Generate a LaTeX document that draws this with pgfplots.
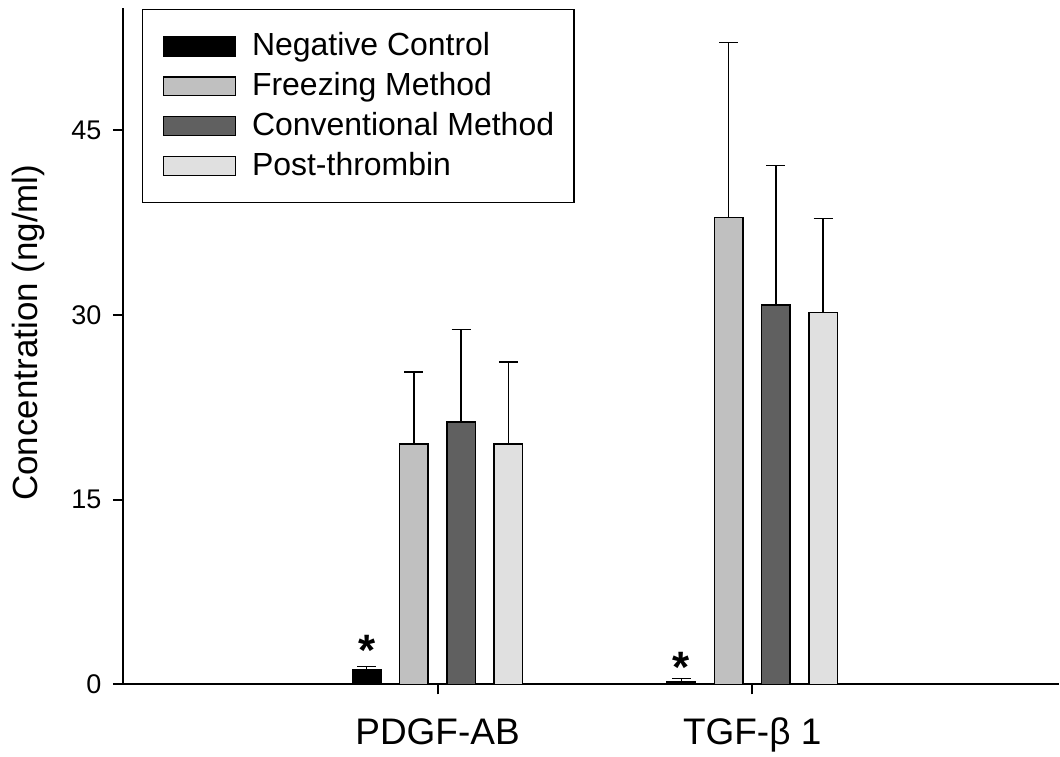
\documentclass[border=0pt]{standalone}
\usepackage{pgfplots}
\pgfplotsset{compat=1.18}
\usepackage{pgfplotstable}
\usepackage{fontspec}
\setmainfont{Liberation Sans}

\definecolor{freez}{HTML}{C0C0C0}
\definecolor{conv}{HTML}{606060}
\definecolor{postt}{HTML}{E0E0E0}

% x = category, y = mean, e = upper error, s = shift of the asterisk (pt)
\pgfplotstableread{
x y e s
1 1.15 0.28 2.3
2 0.24 0.22 -0.5
}\negctrl
\pgfplotstableread{
x y e
1 19.5 5.85
2 37.9 14.2
}\freezing
\pgfplotstableread{
x y e
1 21.3 7.5
2 30.8 11.3
}\conventional
\pgfplotstableread{
x y e
1 19.5 6.65
2 30.2 7.6
}\postthrombin

\begin{document}
\begin{tikzpicture}
\begin{axis}[
    scale only axis,
    width=468.5pt,
    height=338.5pt,
    xmin=0, xmax=2.975,
    ymin=0, ymax=54.9,
    axis lines=left,
    axis line style={-, line width=1pt},
    tick align=outside,
    major tick length=5pt,
    tick style={black, line width=1pt},
    xtick={1,2},
    xticklabels={PDGF-AB, TGF-β 1},
    ytick={0,15,30,45},
    /pgf/number format/assume math mode=true,
    xticklabel style={font=\fontsize{18.5}{18.5}\selectfont, inner sep=0pt,
        text height=13.3pt, text depth=3.8pt, anchor=north, yshift=-11.5pt},
    yticklabel style={font=\fontsize{13.5}{13.5}\selectfont, inner sep=0pt,
        anchor=east, xshift=-5.5pt},
    ylabel={Concentration (ng/ml)},
    ylabel style={font=\fontsize{17.5}{17.5}\selectfont, at={(axis description cs:-0.1014,0.52)}, anchor=center},
    ybar=9.4pt,
    bar width=14.25pt,
    every axis plot/.append style={draw=black, line width=0.75pt},
    error bars/error bar style={black, line width=0.75pt},
    error bars/error mark options={black, rotate=90, mark size=4.75pt, line width=0.75pt},
    legend image code/.code={\draw[#1, line width=0.75pt] (0pt,0pt) rectangle (36pt,9.5pt);},
    legend style={at={(axis description cs:0.0203,0.999)}, anchor=north west,
        draw=black, line width=0.75pt, fill=white,
        font=\fontsize{16}{16}\selectfont,
        inner xsep=10pt, inner ysep=12pt, row sep=7.3pt, column sep=8pt,
        nodes={inner sep=0pt, text height=11.2pt, text depth=1.5pt, anchor=base west}},
    legend cell align=left,
    clip=false,
]
\coordinate (bl) at (rel axis cs:0,0);
\coordinate (tr) at (rel axis cs:1,1);
\addplot[fill=black,
    error bars/.cd, y dir=plus, y explicit,
    ] table[x=x, y=y, y error=e] {\negctrl};
\addlegendentry{Negative Control}
\addplot[fill=freez, error bars/.cd, y dir=plus, y explicit]
    table[x=x, y=y, y error=e] {\freezing};
\addlegendentry{Freezing Method}
\addplot[fill=conv, error bars/.cd, y dir=plus, y explicit]
    table[x=x, y=y, y error=e] {\conventional};
\addlegendentry{Conventional Method}
\addplot[fill=postt, error bars/.cd, y dir=plus, y explicit]
    table[x=x, y=y, y error=e] {\postthrombin};
\addlegendentry{Post-thrombin}
% asterisks above the negative control bars
\addplot[draw=none, fill=none, forget plot, bar shift=-35.475pt,
    nodes near coords={*},
    visualization depends on={\thisrow{s}\as\shift},
    nodes near coords style={font=\fontsize{22}{22}\selectfont\bfseries,
        anchor=base, inner sep=0pt, yshift=\shift pt}]
    table[x=x, y=y] {\negctrl};
\end{axis}
\path (bl) ++(-61.5pt,-36pt);
\path (tr) ++(0pt,4pt);
\end{tikzpicture}
\end{document}
